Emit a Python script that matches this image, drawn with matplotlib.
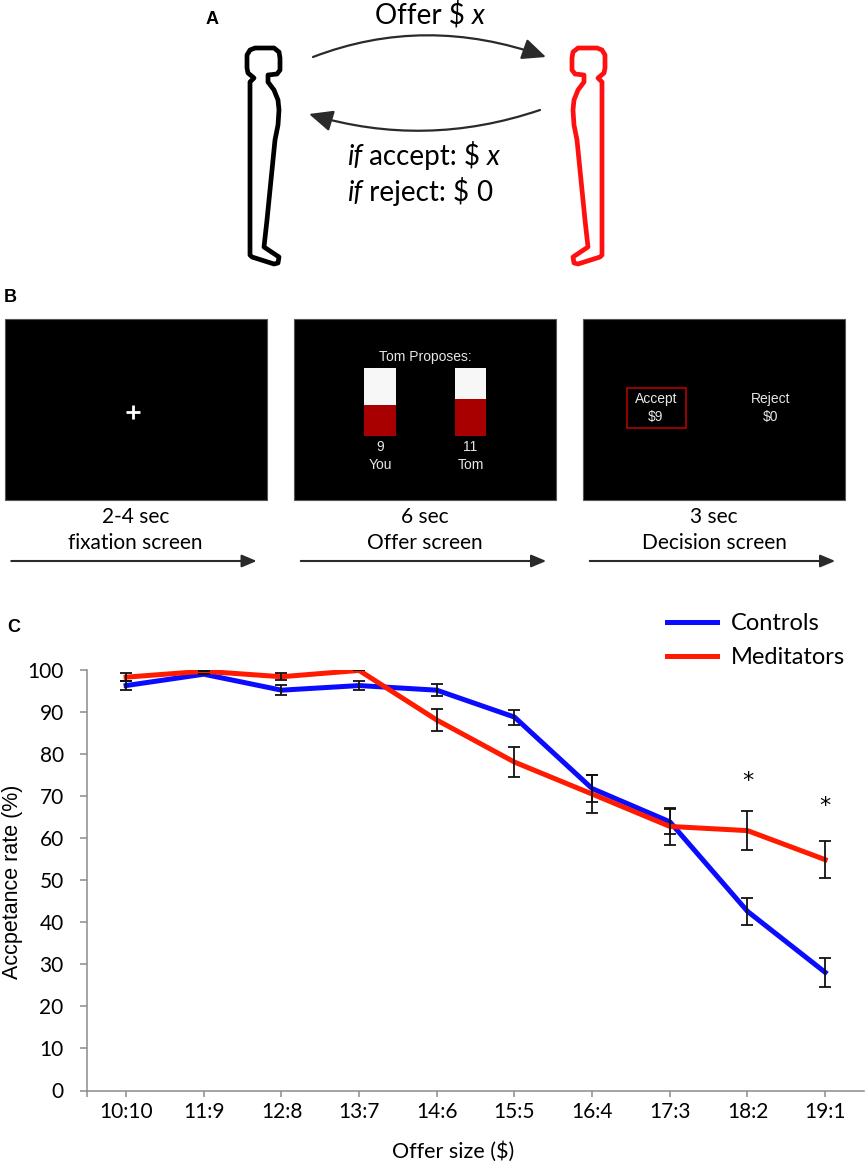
import matplotlib
matplotlib.use("Agg")
import matplotlib.pyplot as plt
import numpy as np
from matplotlib.patches import FancyArrowPatch, Polygon, Rectangle
from matplotlib.path import Path

plt.rcParams["font.family"] = ["Lato", "DejaVu Sans"]

# panel C data
offers = ["10:10", "11:9", "12:8", "13:7", "14:6", "15:5", "16:4", "17:3", "18:2", "19:1"]
controls = [96.3, 99.0, 95.2, 96.3, 95.2, 88.8, 71.8, 63.9, 42.6, 28.1]
controls_err = [1.0, 0.0, 1.2, 1.0, 1.4, 1.8, 3.3, 3.0, 3.2, 3.4]
meditators = [98.3, 99.7, 98.4, 99.9, 88.1, 78.1, 70.5, 62.8, 61.8, 54.9]
meditators_err = [0.9, 0.0, 0.8, 0.0, 2.7, 3.6, 4.5, 4.5, 4.7, 4.4]
sig_offers = ["18:2", "19:1"]
sig_y = [73.7, 67.6]

# panel B screen contents
you_share, tom_share, total = 9, 11, 20

W, H = 866, 1166
fig = plt.figure(figsize=(W / 100, H / 100), dpi=100)

# drawing layer for panels A and B, in pixel units
canvas = fig.add_axes([0, 0, 1, 1])
canvas.set_xlim(0, W)
canvas.set_ylim(H, 0)
canvas.axis("off")

# ---- panel A ----
# outline of a standing person, (forward offset from back, y)
BODY = [(-3, 55), (0, 50), (5, 48), (24, 48), (29, 52), (30, 58), (30, 70), (27, 74),
        (18, 75), (18, 82), (24, 90), (28, 100), (29, 110), (28, 125), (25, 140),
        (23, 160), (20, 190), (17, 220), (14, 247), (29, 257), (28, 263), (24, 264),
        (2, 257), (0, 255), (0, 82), (4, 78), (-2, 73), (-3, 68)]


def person(x_back, facing, color):
    pts = [(x_back + facing * u, y) for u, y in BODY]
    canvas.add_patch(Polygon(pts, closed=True, fill=False, ec=color, lw=3.4,
                             joinstyle="round"))


person(250, 1, "black")
person(602, -1, "#ff1010")


def curved_arrow(p0, ctrl, p1):
    path = Path([p0, ctrl, p1], [Path.MOVETO, Path.CURVE3, Path.CURVE3])
    canvas.add_patch(FancyArrowPatch(path=path, arrowstyle="-|>,head_length=1.45,head_width=0.65",
                                     mutation_scale=10, lw=1.6, color="#2a2a2a"))


curved_arrow((313, 57), (425, 14), (546, 57))
curved_arrow((540, 110), (425, 149), (309, 114))

canvas.text(212, 20, "A", fontsize=13, fontweight="bold", family="Liberation Sans",
            ha="center", va="center")
t = canvas.text(375, 15, "Offer $ ", fontsize=20, ha="left", va="center")
canvas.annotate("x", xy=(1, 0), xycoords=t, fontsize=20, style="italic", ha="left", va="bottom")


def if_line(y, word, value, value_italic):
    t1 = canvas.text(347, y, "if", fontsize=20, style="italic", ha="left", va="center")
    t2 = canvas.annotate(" " + word + ": $ ", xy=(1, 0), xycoords=t1, fontsize=20,
                         ha="left", va="bottom")
    canvas.annotate(value, xy=(1, 0), xycoords=t2, fontsize=20,
                    style="italic" if value_italic else "normal", ha="left", va="bottom")


if_line(157, "accept", "x", True)
if_line(193, "reject", "0", False)

# ---- panel B ----
canvas.text(10, 297, "B", fontsize=13, fontweight="bold", family="Liberation Sans",
            ha="center", va="center")
screens = [(4.5, "2-4 sec", "fixation screen"), (294, "6 sec", "Offer screen"),
           (583, "3 sec", "Decision screen")]
for x0, dur, name in screens:
    canvas.add_patch(Rectangle((x0, 319), 262, 181, fc="black", ec="#555555", lw=0.8))
    cx = x0 + 131
    canvas.text(cx, 517, dur, fontsize=15, ha="center", va="center")
    canvas.text(cx, 543, name, fontsize=15, ha="center", va="center")
    canvas.add_patch(FancyArrowPatch((x0 + 4, 561), (x0 + 255, 561),
                                     arrowstyle="-|>,head_length=0.9,head_width=0.38",
                                     mutation_scale=10, lw=1.5, color="#2a2a2a"))

# fixation cross
canvas.plot([133], [412], marker="+", ms=10, mew=2, color="white")

# offer screen
inner = dict(family="Liberation Sans", color="#e6e6e6", fontsize=10, ha="center", va="center")
canvas.text(425, 357, "Tom Proposes:", **inner)
bar_top, bar_bot = 368, 436
for bx, share, num, who in [(364, you_share, "9", "You"), (454.5, tom_share, "11", "Tom")]:
    split = bar_bot - (bar_bot - bar_top) * share / total
    canvas.add_patch(Rectangle((bx, bar_top), 31.5, split - bar_top, fc="#f7f7f7", lw=0))
    canvas.add_patch(Rectangle((bx, split), 31.5, bar_bot - split, fc="#a80000", lw=0))
    canvas.text(bx + 16, 447, num, **inner)
    canvas.text(bx + 16, 465, who, **inner)

# decision screen
canvas.add_patch(Rectangle((627, 388), 59, 40, fill=False, ec="#b30000", lw=1.2))
canvas.text(656, 399, "Accept", **inner)
canvas.text(656, 417, "$9", **inner)
canvas.text(771, 399, "Reject", **inner)
canvas.text(771, 417, "$0", **inner)

# ---- panel C ----
canvas.text(14, 628, "C", fontsize=13, fontweight="bold", family="Liberation Sans",
            ha="center", va="center")

ax = fig.add_axes([87.3 / W, 1 - 1090.5 / H, (864 - 87.3) / W, (1090.5 - 670) / H])
ax.set_facecolor("none")
xs = np.arange(len(offers))

ax.plot(xs, controls, color="#0b0bff", lw=3.6, label="Controls", zorder=2)
ax.plot(xs, meditators, color="#ff1a00", lw=3.6, label="Meditators", zorder=3)
for vals, errs in [(controls, controls_err), (meditators, meditators_err)]:
    ax.errorbar(xs, vals, yerr=errs, fmt="none", ecolor="#111111", elinewidth=1.3,
                capsize=4.3, capthick=1.3, zorder=4)
for o, y in zip(sig_offers, sig_y):
    ax.text(offers.index(o), y, "*", fontsize=16, ha="center", va="center",
            family="DejaVu Sans")

ax.set_xlim(-0.5, len(offers) - 0.5)
ax.set_ylim(0, 100)
ax.set_xticks(xs)
ax.set_xticklabels(offers)
ax.set_xticks([-0.5], minor=True)
ax.set_yticks(range(0, 101, 10))
for side in ["top", "right"]:
    ax.spines[side].set_visible(False)
for side in ["left", "bottom"]:
    ax.spines[side].set_color("#8c8c8c")
    ax.spines[side].set_linewidth(1.1)
ax.tick_params(axis="y", length=5, width=1.1, color="#8c8c8c", labelsize=15, pad=12)
ax.tick_params(axis="x", which="both", length=4.5, width=1.1, color="#8c8c8c",
               labelsize=15, pad=4)

ax.legend(loc="upper left", bbox_to_anchor=(667 / W, 1 - 613 / H), bbox_transform=fig.transFigure,
          frameon=False, fontsize=17, handlelength=2.1, handletextpad=0.6,
          labelspacing=0.55, borderpad=0, borderaxespad=0)

fig.text(13 / W, 1 - 882 / H, "Accpetance rate (%)", rotation=90, fontsize=15.5,
         family="Liberation Sans", ha="center", va="center")
fig.text(453 / W, 1 - 1152 / H, "Offer size ($)", fontsize=15.5, ha="center", va="center")

fig.savefig("out.png", dpi=100, facecolor="white")
